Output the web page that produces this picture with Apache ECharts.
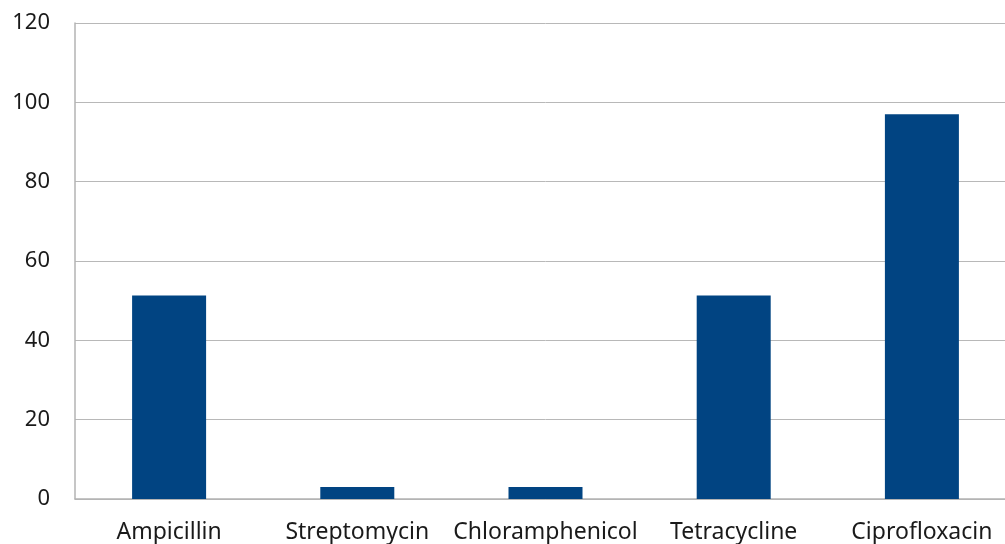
<!DOCTYPE html>
<html>
<head>
<meta charset="utf-8">
<script src="https://cdn.jsdelivr.net/npm/echarts@6/dist/echarts.min.js"></script>
<style>
  html, body { margin: 0; padding: 0; background: #ffffff; overflow: hidden; }
  /* plot area runs slightly past the right edge of the window */
  #chart { width: 1016px; height: 544px; }
</style>
</head>
<body>
<div id="chart"></div>
<script>
// Antibiotic names along the x axis
const antibiotics = ['Ampicillin', 'Streptomycin', 'Chloramphenicol', 'Tetracycline', 'Ciprofloxacin'];
// Percentage per antibiotic
const percentages = [51.3, 3, 3, 51.3, 97];
// Value axis range
const yMin = 0;
const yMax = 120;
const yStep = 20;

const chart = echarts.init(document.getElementById('chart'), null, { renderer: 'canvas' });
const font = '"Noto Sans", "Open Sans", sans-serif';

chart.setOption({
  animation: false,
  backgroundColor: '#ffffff',
  grid: { left: 75, top: 23, right: 0, bottom: 45, containLabel: false },
  xAxis: {
    type: 'category',
    data: antibiotics,
    axisLine: { show: true, lineStyle: { color: '#b3b3b3', width: 1.5 } },
    axisTick: { show: false },
    axisLabel: { color: '#1a1a1a', fontFamily: font, fontSize: 23, margin: 22, interval: 0 }
  },
  yAxis: {
    type: 'value',
    min: yMin,
    max: yMax,
    interval: yStep,
    axisLine: { show: true, lineStyle: { color: '#b3b3b3', width: 1.5 } },
    axisTick: { show: false },
    axisLabel: { color: '#1a1a1a', fontFamily: font, fontSize: 22, margin: 25 },
    splitLine: { show: true, lineStyle: { color: '#b8b8b8', width: 1 } }
  },
  series: [{
    type: 'bar',
    data: percentages,
    barWidth: 74,
    itemStyle: { color: '#014482' }
  }]
});
</script>
</body>
</html>
